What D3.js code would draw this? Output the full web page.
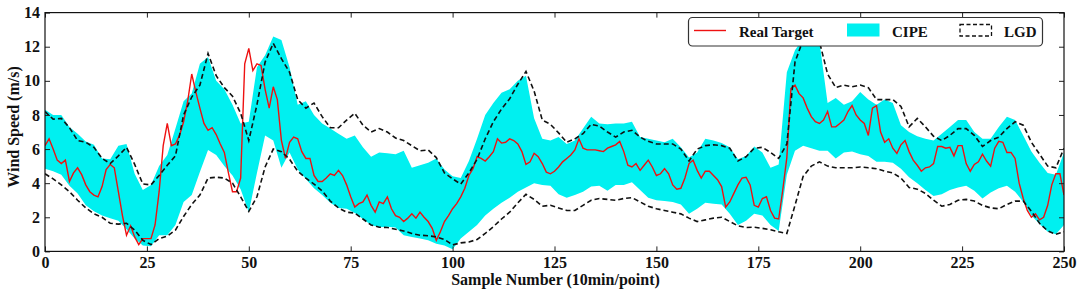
<!DOCTYPE html>
<html><head><meta charset="utf-8">
<script src="https://cdn.jsdelivr.net/npm/d3@7"></script>
<style>
html,body{margin:0;padding:0;background:#fff;}
svg{display:block;}
text{font-family:"Liberation Serif","Times New Roman",serif;font-weight:bold;fill:#111;}
</style></head>
<body>
<svg id="chart" width="1079" height="298"></svg>
<script>
// ---------- data ----------
const xTicks = [0, 25, 50, 75, 100, 125, 150, 175, 200, 225, 250];
const yTicks = [0, 2, 4, 6, 8, 10, 12, 14];
const seriesNames = ["Real Target", "CIPE", "LGD"];

// Real target, one value per sample (0..250)
const realTarget = [
 6.2, 6.6, 6.0, 5.35, 5.15, 5.35, 4.1, 4.6, 4.9, 4.5,
 3.9, 3.5, 3.3, 3.2, 3.8, 4.8, 5.1, 4.9, 3.5, 2.1,
 0.95, 1.5, 0.85, 0.4, 0.75, 0.75, 0.75, 1.55, 3.5, 6.2,
 7.5, 6.2, 6.3, 6.8, 7.6, 8.8, 10.4, 9.35, 8.4, 7.5,
 7.1, 7.25, 6.85, 6.3, 5.8, 4.6, 3.5, 3.5, 4.3, 11.0,
 11.9, 10.6, 11.0, 10.9, 9.5, 8.4, 9.65, 8.9, 6.5, 5.45,
 6.4, 6.7, 6.6, 5.85, 5.45, 5.45, 4.45, 4.1, 4.1, 4.3,
 4.55, 4.45, 4.75, 4.45, 3.9, 3.2, 2.6, 2.8, 2.9, 3.3,
 2.7, 2.3, 2.9, 2.8, 3.2, 2.5, 2.1, 2.0, 1.75, 1.95,
 2.2, 1.95, 2.3, 2.0, 1.75, 1.35, 0.65, 1.15, 1.75, 2.1,
 2.5, 2.8, 3.2, 3.7, 4.45, 4.85, 5.55, 5.45, 5.3, 5.55,
 5.85, 6.6, 6.35, 6.4, 6.6, 6.5, 6.3, 5.85, 5.1, 5.25,
 5.75, 5.55, 5.15, 4.65, 4.55, 4.7, 4.95, 5.25, 5.45, 5.65,
 5.95, 6.6, 6.05, 5.95, 5.95, 5.95, 5.9, 5.85, 6.05, 6.15,
 6.25, 6.45, 5.85, 5.05, 4.95, 5.15, 4.75, 5.05, 5.35, 4.95,
 4.45, 4.55, 4.85, 4.55, 3.9, 3.65, 3.7, 4.3, 5.15, 5.35,
 4.75, 4.3, 4.7, 4.7, 4.45, 4.2, 3.8, 2.6, 2.9, 3.4,
 3.9, 4.3, 4.35, 3.9, 2.7, 2.6, 3.1, 3.2, 2.4, 1.95,
 1.9, 3.6, 5.5, 9.55, 9.75, 9.25, 9.0, 8.4, 7.9, 7.6,
 7.5, 7.7, 8.2, 7.3, 7.3, 7.5, 7.7, 8.2, 8.55, 8.0,
 7.7, 7.5, 6.8, 8.4, 8.55, 7.0, 6.4, 6.6, 6.05, 5.75,
 6.25, 6.5, 5.85, 5.35, 5.05, 4.7, 4.9, 4.95, 5.15, 6.15,
 6.15, 6.05, 6.1, 5.6, 6.2, 6.2, 5.15, 4.7, 5.1, 5.25,
 5.7, 5.3, 5.0, 6.05, 6.45, 6.4, 5.8, 5.8, 5.45, 4.0,
 3.1, 2.4, 2.0, 2.2, 1.85, 2.0, 2.7, 3.9, 4.55, 4.55, 3.3
];

// interval bounds read every second sample (0, 2, ..., 250)
const bandSamples = d3.range(0, 251, 2);
const cipeUpper = [
 8.3, 8.0, 8.0, 7.3, 6.9, 6.45, 6.25, 5.45, 5.4, 6.2,
 6.3, 4.55, 3.6, 3.9, 5.0, 5.65, 7.2, 8.8, 9.25, 11.0,
 11.4, 10.0, 9.5, 8.6, 7.5, 7.6, 10.8, 11.5, 12.6, 12.4,
 10.8, 8.6, 8.8, 8.0, 7.5, 7.2, 6.9, 6.6, 6.8, 6.1,
 5.55, 5.8, 5.75, 5.7, 5.9, 4.9, 5.05, 5.2, 5.45, 4.8,
 4.4, 4.3, 5.3, 6.6, 8.0, 8.7, 9.3, 9.5, 10.0, 10.3,
 7.8, 6.6, 6.5, 6.7, 6.3, 6.5, 7.2, 7.9, 7.5, 7.45,
 7.5, 7.5, 7.6, 6.7, 6.6, 6.5, 6.4, 6.6, 6.1, 5.5,
 5.8, 6.6, 6.5, 6.35, 6.1, 5.4, 5.6, 6.15, 5.8, 4.9,
 5.1, 10.5, 11.8, 12.5, 12.6, 12.3, 8.7, 9.0, 8.6, 8.8,
 9.35, 8.9, 8.6, 8.9, 8.7, 7.4, 7.0, 6.75, 6.6, 6.5,
 6.9, 7.3, 7.7, 7.7, 7.0, 6.6, 6.6, 7.3, 7.9, 7.7,
 6.8, 5.85, 5.2, 4.6, 4.5, 5.8
];
const cipeLower = [
 4.85, 4.7, 4.5, 3.85, 3.4, 2.7, 2.35, 2.1, 1.95, 1.8,
 1.3, 0.75, 0.35, 0.3, 0.95, 0.95, 1.55, 2.9, 3.3, 4.65,
 5.95, 5.65, 5.0, 4.45, 3.65, 2.3, 4.6, 6.8, 6.5, 4.9,
 5.8, 4.8, 4.25, 3.7, 3.3, 2.85, 2.55, 2.5, 2.25, 1.9,
 1.55, 1.42, 1.45, 1.4, 0.95, 0.85, 0.75, 0.65, 0.45, 0.35,
 0.12, 0.75, 1.15, 1.55, 2.1, 2.5, 2.85, 3.15, 3.5, 3.75,
 4.0, 3.9, 3.85, 3.35, 3.15, 3.3, 3.5, 3.8, 3.85, 3.55,
 3.9, 3.9, 4.05, 3.6, 3.15, 3.0, 2.95, 2.9, 2.75, 2.2,
 2.5, 2.85, 2.8, 2.75, 2.2, 1.55, 1.8, 2.2, 2.1, 1.55,
 1.2, 4.5, 5.9, 6.2, 6.05, 5.9, 5.9, 5.45, 5.8, 5.85,
 5.7, 5.6, 5.25, 5.25, 5.2, 4.85, 4.35, 4.0, 3.6, 3.25,
 3.35, 3.6, 3.75, 3.85, 3.55, 3.1, 3.45, 3.7, 3.85, 3.5,
 2.9, 2.1, 1.6, 1.15, 1.0, 1.55
];
const lgdUpper = [
 8.2, 7.75, 7.8, 7.25, 6.5, 6.4, 6.1, 5.45, 5.15, 5.6,
 6.1, 5.1, 3.95, 3.9, 4.45, 5.05, 5.6, 8.0, 9.05, 9.75,
 11.6, 10.3, 9.6, 9.1, 8.1, 6.5, 8.6, 11.1, 12.2, 11.3,
 10.5, 8.9, 8.4, 8.7, 7.9, 7.25, 7.25, 7.7, 8.1, 7.4,
 7.0, 7.2, 7.0, 6.65, 6.5, 6.2, 5.9, 5.95, 5.5, 4.6,
 4.25, 3.95, 4.6, 5.4, 6.6, 7.6, 8.35, 8.95, 9.8, 10.55,
 9.4, 7.7, 7.45, 6.95, 6.4, 6.6, 6.9, 7.45, 7.35, 7.0,
 6.7, 7.0, 7.1, 6.7, 6.45, 6.3, 6.3, 6.3, 6.0, 5.3,
 6.0, 6.2, 6.25, 6.2, 6.05, 5.3, 5.55, 6.05, 6.1, 5.8,
 5.45, 6.3, 11.1, 12.4, 12.55, 12.3, 10.4, 9.6, 9.75, 9.65,
 9.75, 9.6, 8.9, 8.9, 8.9, 8.5, 7.3, 7.8, 7.3, 6.75,
 6.5, 6.8, 7.2, 7.2, 6.8, 6.15, 6.5, 6.7, 7.2, 7.6,
 7.4, 6.4, 5.7, 5.0, 4.9, 6.05
];
const lgdLower = [
 4.55, 4.25, 3.9, 3.5, 3.0, 2.55, 2.2, 2.0, 1.65, 1.6,
 1.65, 1.25, 0.65, 0.4, 0.75, 0.9, 1.25, 2.05, 2.75, 3.3,
 4.3, 4.35, 4.3, 4.0, 3.2, 2.35, 3.2, 4.95, 6.0, 5.85,
 5.4, 4.7, 4.3, 3.95, 3.55, 2.95, 2.55, 2.3, 2.25, 1.9,
 1.55, 1.42, 1.4, 1.3, 1.2, 1.05, 0.95, 0.92, 0.85, 0.7,
 0.38, 0.5, 0.55, 0.7, 1.05, 1.45, 1.9, 2.3, 2.85, 3.35,
 3.05, 2.65, 2.7, 2.55, 2.4, 2.4, 2.7, 3.0, 3.1, 3.05,
 3.0, 3.1, 3.15, 2.9, 2.65, 2.5, 2.4, 2.3, 2.2, 1.95,
 1.75, 1.85, 1.95, 2.0, 1.75, 1.5, 1.4, 1.42, 1.35, 1.27,
 1.15, 1.05, 2.7, 4.4, 5.0, 5.25, 5.0, 4.9, 4.9, 4.9,
 4.95, 4.9, 4.85, 4.7, 4.6, 4.3, 3.75, 3.65, 3.4, 3.0,
 2.65, 2.75, 3.0, 3.05, 2.95, 2.7, 2.55, 2.5, 2.75, 2.95,
 2.95, 2.35, 1.65, 1.2, 1.0, 1.15
];

// ---------- drawing ----------
const svg = d3.select("#chart");
const L = 45, R = 1064, T = 12.6, B = 251.4;
const x = d3.scaleLinear().domain([0, 250]).range([L, R]);
const y = d3.scaleLinear().domain([0, 14]).range([B, T]);
const cyan = "#00f0f0", red = "#ee1111";

svg.append("defs").append("clipPath").attr("id", "clip")
  .append("rect").attr("x", L).attr("y", T).attr("width", R - L).attr("height", B - T);
const plot = svg.append("g").attr("clip-path", "url(#clip)");

const band = bandSamples.map((s, i) => ({s, lo: cipeLower[i], hi: cipeUpper[i], du: lgdUpper[i], dl: lgdLower[i]}));

plot.append("path").datum(band)
  .attr("fill", cyan).attr("stroke", "none")
  .attr("d", d3.area().x(d => x(d.s)).y0(d => y(d.lo)).y1(d => y(d.hi)));

plot.append("path").datum(realTarget)
  .attr("fill", "none").attr("stroke", red).attr("stroke-width", 1.4)
  .attr("d", d3.line().x((d, i) => x(i)).y(d => y(d)));

["du", "dl"].forEach(k => {
  plot.append("path").datum(band)
    .attr("fill", "none").attr("stroke", "#111").attr("stroke-width", 1.6)
    .attr("stroke-dasharray", "5,3")
    .attr("d", d3.line().x(d => x(d.s)).y(d => y(d[k])));
});

// axes (ticks pointing inward on all four sides)
function styleAxis(g) {
  g.select(".domain").remove();
  g.selectAll("line").attr("stroke", "#222").attr("stroke-width", 1);
  g.selectAll("text").style("font-size", "16px").style("font-family", '"Liberation Serif", serif')
    .style("font-weight", "bold").attr("fill", "#111");
}
svg.append("g").attr("transform", `translate(0,${B})`)
  .call(d3.axisBottom(x).tickValues(xTicks).tickSize(-5).tickPadding(5).tickFormat(d3.format("d"))).call(styleAxis);
svg.append("g").attr("transform", `translate(0,${T})`)
  .call(d3.axisTop(x).tickValues(xTicks).tickSize(-5).tickFormat("")).call(styleAxis);
svg.append("g").attr("transform", `translate(${L},0)`)
  .call(d3.axisLeft(y).tickValues(yTicks).tickSize(-5).tickPadding(5).tickFormat(d3.format("d"))).call(styleAxis);
svg.append("g").attr("transform", `translate(${R},0)`)
  .call(d3.axisRight(y).tickValues(yTicks).tickSize(-5).tickFormat("")).call(styleAxis);

svg.append("rect").attr("x", L).attr("y", T).attr("width", R - L).attr("height", B - T)
  .attr("fill", "none").attr("stroke", "#111").attr("stroke-width", 1.2);

// axis titles
svg.append("text").attr("x", (L + R) / 2 + 1).attr("y", 285).attr("text-anchor", "middle")
  .style("font-size", "16px").text("Sample Number (10min/point)");
svg.append("text").attr("transform", "translate(19,127) rotate(-90)").attr("text-anchor", "middle")
  .style("font-size", "16px").text("Wind Speed (m/s)");

// legend
const lg = svg.append("g");
lg.append("rect").attr("x", 688.5).attr("y", 17.5).attr("width", 354).attr("height", 28.5).attr("rx", 4)
  .attr("fill", "#fff").attr("stroke", "#333").attr("stroke-width", 1.2);
lg.append("line").attr("x1", 694).attr("x2", 726).attr("y1", 30.5).attr("y2", 30.5)
  .attr("stroke", red).attr("stroke-width", 1.4);
lg.append("rect").attr("x", 847).attr("y", 23.5).attr("width", 32.5).attr("height", 13).attr("fill", cyan);
lg.append("rect").attr("x", 960).attr("y", 24.5).attr("width", 31.5).attr("height", 11.5)
  .attr("fill", "none").attr("stroke", "#111").attr("stroke-width", 1.3).attr("stroke-dasharray", "4,2.5");
const legendX = [739, 892, 1004];
seriesNames.forEach((n, i) => {
  lg.append("text").attr("x", legendX[i]).attr("y", 36.5).style("font-size", "15px").text(n);
});
</script>
</body></html>
